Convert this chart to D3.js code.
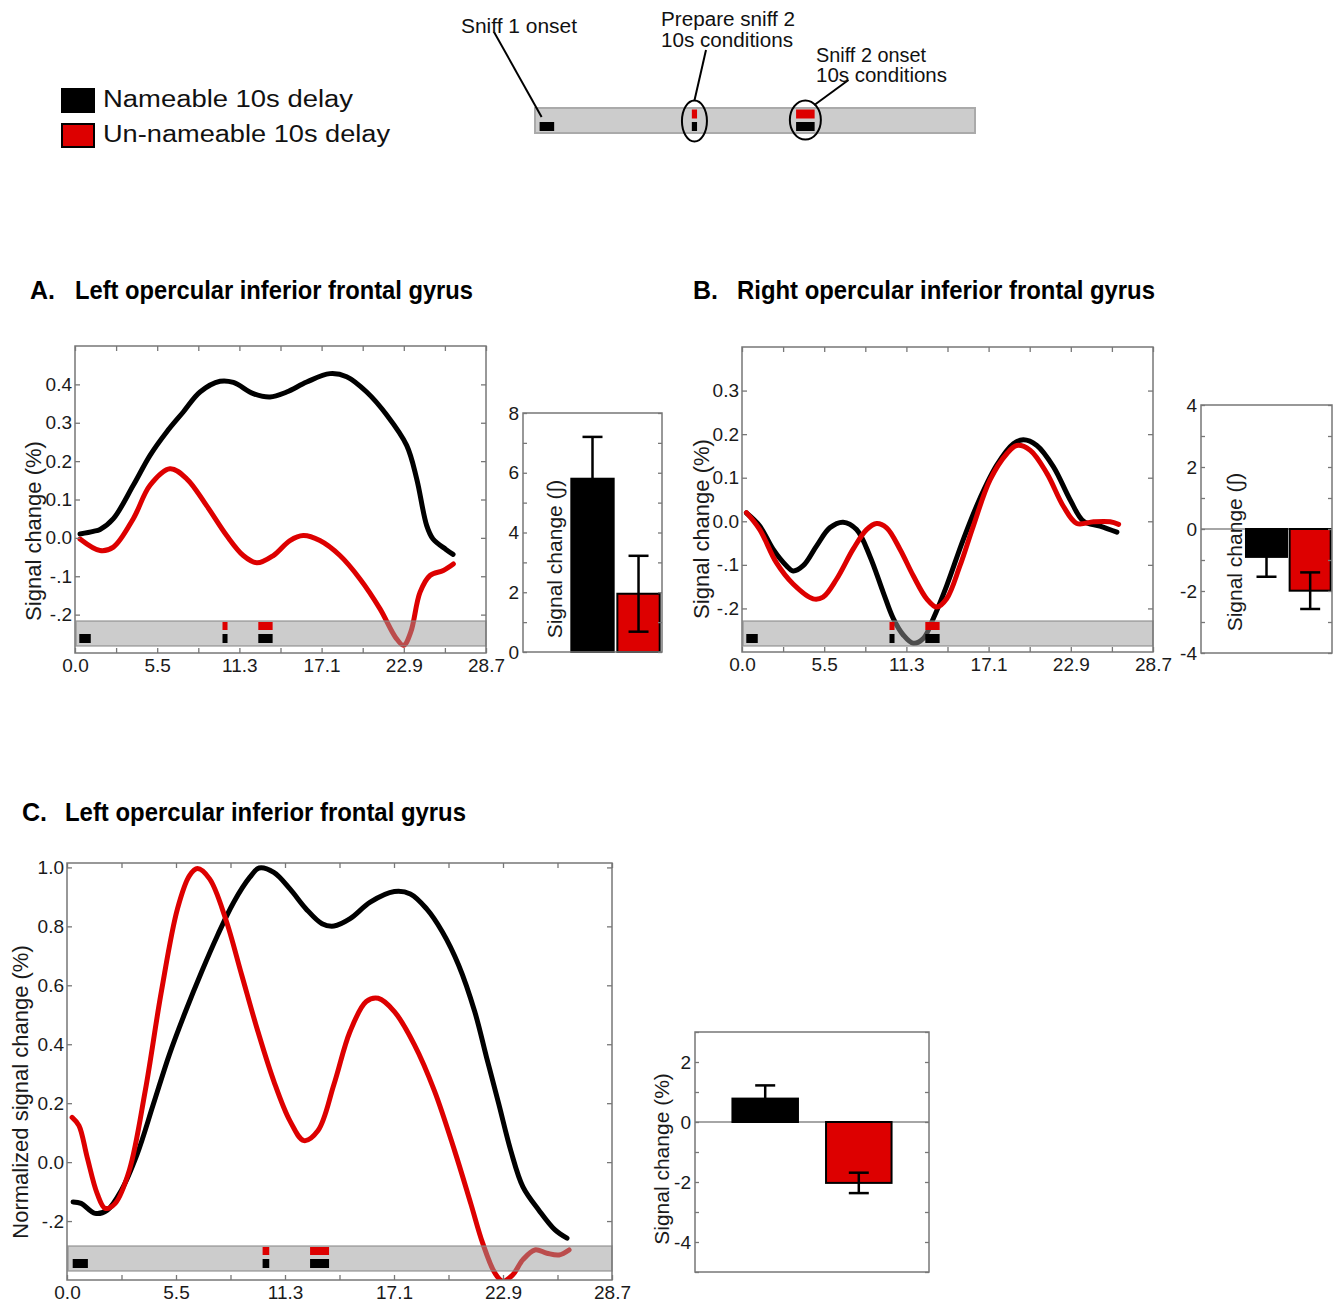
<!DOCTYPE html>
<html>
<head>
<meta charset="utf-8">
<script src="https://cdn.jsdelivr.net/npm/d3@7"></script>
<style>
  body { margin: 0; background: #fff; }
  text { font-family: "Liberation Sans", Arial, sans-serif; }
</style>
</head>
<body>
<script>
// ---- data ----
const seriesNames = ["Nameable 10s delay", "Un-nameable 10s delay"];
const seriesColors = ["#000000", "#dd0000"];

const tMax = 28.7;
const xTickLabels = ["0.0", "5.5", "11.3", "17.1", "22.9", "28.7"];

// event markers (s) shown in the grey band of each time course
const sniff1 = [0.3, 1.1];
const prepSniff2 = [10.3, 10.65];
const sniff2 = [12.8, 13.8];

// schematic trial at the top
const schemaSniff1 = [0.3, 1.25];
const schemaPrep = [10.23, 10.57];
const schemaSniff2 = [17.03, 18.24];

// A. left opercular IFG  [time, % signal change]
const aNameable = [[0.35,0.010],[1.28,0.017],[1.75,0.022],[2.68,0.05],[4.07,0.137],[5.24,0.215],[6.4,0.276],[7.56,0.328],[8.73,0.38],[10.13,0.408],[11.06,0.405],[12.45,0.376],[13.62,0.367],[14.78,0.38],[16.18,0.406],[17.8,0.428],[18.97,0.42],[20.37,0.38],[21.77,0.32],[23.16,0.241],[23.86,0.154],[24.56,0.032],[25.0,-0.003],[25.9,-0.03],[26.4,-0.043]];
const aUnnameable = [[0.35,-0.003],[1.75,-0.033],[2.68,-0.024],[4.07,0.05],[5.24,0.137],[6.63,0.18],[7.8,0.154],[9.19,0.084],[10.59,0.006],[11.75,-0.046],[12.69,-0.065],[13.85,-0.046],[15.01,-0.007],[15.94,0.006],[17.1,-0.007],[18.5,-0.046],[19.9,-0.107],[21.3,-0.185],[22.4,-0.26],[22.95,-0.28],[23.45,-0.245],[24.09,-0.142],[24.79,-0.098],[25.72,-0.085],[26.42,-0.068]];
const aYTicks = [0.4, 0.3, 0.2, 0.1, 0, -0.1, -0.2];
const aYLabels = ["0.4", "0.3", "0.2", "0.1", "0.0", "-.1", "-.2"];

// B. right opercular IFG
const bNameable = [[0.31,0.019],[1.24,-0.011],[2.17,-0.064],[3.1,-0.102],[3.57,-0.114],[4.27,-0.102],[5.2,-0.057],[6.13,-0.015],[7.06,-0.002],[8.0,-0.019],[8.93,-0.08],[9.86,-0.163],[10.56,-0.223],[11.26,-0.261],[11.96,-0.28],[12.66,-0.269],[13.36,-0.223],[14.29,-0.148],[15.45,-0.042],[16.62,0.053],[17.79,0.129],[18.95,0.178],[19.65,0.187],[20.59,0.174],[21.75,0.125],[22.92,0.049],[23.85,0.0],[25.0,-0.011],[26.18,-0.025]];
const bUnnameable = [[0.31,0.02],[1.24,-0.019],[2.4,-0.095],[3.57,-0.144],[4.97,-0.178],[5.66,-0.174],[6.6,-0.133],[7.76,-0.064],[8.7,-0.019],[9.4,-0.005],[10.1,-0.015],[11.03,-0.064],[11.96,-0.125],[12.9,-0.178],[13.6,-0.197],[14.29,-0.178],[15.22,-0.102],[16.15,-0.011],[17.32,0.095],[18.49,0.155],[19.19,0.174],[20.12,0.163],[21.29,0.11],[22.45,0.034],[23.38,-0.005],[24.55,-0.001],[25.71,-0.001],[26.3,-0.007]];
const bYTicks = [0.3, 0.2, 0.1, 0, -0.1, -0.2];
const bYLabels = ["0.3", "0.2", "0.1", "0.0", "-.1", "-.2"];

// C. left opercular IFG, normalised
const cNameable = [[0.32,-0.135],[0.74,-0.14],[1.48,-0.174],[2.12,-0.163],[2.86,-0.096],[3.7,0.028],[4.55,0.197],[5.39,0.365],[6.24,0.511],[7.09,0.646],[7.93,0.77],[8.78,0.882],[9.62,0.966],[10.12,0.998],[10.89,0.983],[11.74,0.927],[12.58,0.86],[13.43,0.809],[14.06,0.801],[14.91,0.826],[15.97,0.882],[17.24,0.918],[18.08,0.91],[18.93,0.86],[19.77,0.781],[20.62,0.669],[21.47,0.511],[22.1,0.354],[22.74,0.197],[23.37,0.039],[24.01,-0.084],[24.85,-0.163],[25.7,-0.23],[26.33,-0.258]];
const cUnnameable = [[0.27,0.152],[0.63,0.124],[1.06,0.017],[1.59,-0.107],[2.01,-0.157],[2.54,-0.14],[3.28,-0.028],[4.12,0.242],[4.97,0.579],[5.82,0.86],[6.45,0.972],[6.87,0.996],[7.51,0.961],[8.35,0.826],[9.2,0.635],[10.05,0.444],[10.89,0.275],[11.74,0.14],[12.48,0.073],[13.22,0.107],[14.06,0.264],[14.91,0.444],[15.76,0.545],[16.39,0.556],[17.24,0.511],[18.29,0.399],[19.35,0.242],[20.41,0.039],[21.26,-0.14],[21.89,-0.275],[22.53,-0.376],[22.95,-0.404],[23.48,-0.382],[24.01,-0.331],[24.64,-0.298],[25.27,-0.309],[25.91,-0.315],[26.44,-0.298]];
const cYTicks = [1.0, 0.8, 0.6, 0.4, 0.2, 0, -0.2];
const cYLabels = ["1.0", "0.8", "0.6", "0.4", "0.2", "0.0", "-.2"];

// bar charts: mean and error per condition
const barCategories = ["Nameable", "Un-nameable"];
const barAValues = [5.8, 1.95];
const barAErrors = [1.4, 1.27];
const barBValues = [-0.9, -1.99];
const barBErrors = [0.64, 0.59];
const barCValues = [0.78, -2.03];
const barCErrors = [0.44, 0.34];
const barATicks = [8, 6, 4, 2, 0];
const barBTicks = [4, 2, 0, -2, -4];
const barCTicks = [2, 0, -2, -4];

// ---- drawing ----
const svg = d3.select("body").append("svg")
    .attr("width", 1333)
    .attr("height", 1303);

const tickColor = "#777";
const labelColor = "#1a1a1a";

function styleAxis(g) {
    g.select(".domain").remove();
    g.selectAll(".tick line").attr("stroke", tickColor).attr("stroke-width", 1.3);
    g.selectAll(".tick text").attr("fill", labelColor)
        .attr("font-family", "Liberation Sans, Arial, sans-serif")
        .attr("font-size", 19);
}

function markerRows(g, x, top) {
    // red on the upper row, black on the lower row
    const rows = [
        { span: sniff1, color: seriesColors[0], y: top + 13, h: 9 },
        { span: prepSniff2, color: seriesColors[1], y: top + 1, h: 8 },
        { span: prepSniff2, color: seriesColors[0], y: top + 13, h: 9 },
        { span: sniff2, color: seriesColors[1], y: top + 1, h: 8 },
        { span: sniff2, color: seriesColors[0], y: top + 13, h: 9 }
    ];
    g.selectAll("rect.marker").data(rows).join("rect")
        .attr("class", "marker")
        .attr("x", d => x(d.span[0]))
        .attr("width", d => x(d.span[1]) - x(d.span[0]))
        .attr("y", d => d.y)
        .attr("height", d => d.h)
        .attr("fill", d => d.color);
}

function timecourse(cfg) {
    const g = svg.append("g").attr("transform", `translate(${cfg.left},${cfg.top})`);
    const x = d3.scaleLinear().domain([0, tMax]).range([0, cfg.width]);
    const y = d3.scaleLinear().domain(cfg.yDomain).range([cfg.height, 0]);

    g.append("clipPath").attr("id", cfg.id)
        .append("rect").attr("width", cfg.width).attr("height", cfg.height);

    const line = d3.line()
        .x(d => x(d[0]))
        .y(d => y(d[1]))
        .curve(d3.curveCatmullRom.alpha(0.5));

    [cfg.nameable, cfg.unnameable].forEach((s, i) => {
        g.append("path")
            .attr("d", line(s))
            .attr("fill", "none")
            .attr("stroke", seriesColors[i])
            .attr("stroke-width", 5)
            .attr("stroke-linecap", "round")
            .attr("stroke-linejoin", "round")
            .attr("clip-path", `url(#${cfg.id})`);
    });

    // translucent grey event band over the curves
    const bandH = 25;
    const bandTop = cfg.height - cfg.bandBottom - bandH;
    g.append("rect")
        .attr("x", 1).attr("y", bandTop)
        .attr("width", cfg.width - 1).attr("height", bandH)
        .attr("fill", "#999").attr("fill-opacity", 0.5)
        .attr("stroke", "#888").attr("stroke-opacity", 0.7).attr("stroke-width", 1.5);
    markerRows(g, x, bandTop);

    g.append("rect")
        .attr("width", cfg.width).attr("height", cfg.height)
        .attr("fill", "none").attr("stroke", tickColor).attr("stroke-width", 1.5);

    const xTicks = d3.range(11).map(i => i * tMax / 10);
    g.append("g").attr("transform", `translate(0,${cfg.height})`)
        .call(d3.axisBottom(x).tickValues(xTicks).tickSizeInner(-5).tickSizeOuter(0).tickPadding(6)
            .tickFormat((d, i) => i % 2 === 0 ? xTickLabels[i / 2] : ""))
        .call(styleAxis);
    g.append("g")
        .call(d3.axisTop(x).tickValues(xTicks).tickSizeInner(-5).tickSizeOuter(0).tickFormat(""))
        .call(styleAxis);
    g.append("g")
        .call(d3.axisLeft(y).tickValues(cfg.yTicks).tickSizeInner(-5).tickSizeOuter(0).tickPadding(3)
            .tickFormat((d, i) => cfg.yLabels[i]))
        .call(styleAxis);
    g.append("g").attr("transform", `translate(${cfg.width},0)`)
        .call(d3.axisRight(y).tickValues(cfg.yTicks).tickSizeInner(-5).tickSizeOuter(0).tickFormat(""))
        .call(styleAxis);

    g.append("text")
        .attr("transform", `translate(${cfg.titleX},${cfg.titleY}) rotate(-90)`)
        .attr("text-anchor", "middle")
        .attr("dy", "0.35em")
        .attr("font-size", 22)
        .attr("fill", labelColor)
        .text(cfg.yTitle);
}

function barPanel(cfg) {
    const g = svg.append("g").attr("transform", `translate(${cfg.left},${cfg.top})`);
    const domain = cfg.labelInside ? [""].concat(barCategories) : barCategories;
    const x = d3.scaleBand().domain(domain).range([0, cfg.width])
        .paddingInner(cfg.paddingInner).paddingOuter(cfg.paddingOuter);
    const y = d3.scaleLinear().domain(cfg.yDomain).range([cfg.height, 0]);

    if (cfg.yDomain[0] < 0) {
        g.append("line")
            .attr("x1", 0).attr("x2", cfg.width)
            .attr("y1", y(0)).attr("y2", y(0))
            .attr("stroke", "#888").attr("stroke-width", 1.5);
    }

    if (cfg.labelInside) drawBarTitle();

    const data = cfg.values.map((v, i) => ({ cat: barCategories[i], v: v, e: cfg.errors[i], c: seriesColors[i] }));

    g.selectAll("rect.bar").data(data).join("rect")
        .attr("class", "bar")
        .attr("x", d => x(d.cat))
        .attr("width", x.bandwidth())
        .attr("y", d => y(Math.max(0, d.v)))
        .attr("height", d => Math.abs(y(d.v) - y(0)))
        .attr("fill", d => d.c)
        .attr("stroke", "#000")
        .attr("stroke-width", 2);

    const cap = 10;
    const err = g.selectAll("g.err").data(data).join("g").attr("class", "err")
        .attr("stroke", "#000").attr("stroke-width", 2.5);
    err.append("line")
        .attr("x1", d => x(d.cat) + x.bandwidth() / 2).attr("x2", d => x(d.cat) + x.bandwidth() / 2)
        .attr("y1", d => y(d.v - d.e)).attr("y2", d => y(d.v + d.e));
    err.append("line")
        .attr("x1", d => x(d.cat) + x.bandwidth() / 2 - cap).attr("x2", d => x(d.cat) + x.bandwidth() / 2 + cap)
        .attr("y1", d => y(d.v + d.e)).attr("y2", d => y(d.v + d.e));
    err.append("line")
        .attr("x1", d => x(d.cat) + x.bandwidth() / 2 - cap).attr("x2", d => x(d.cat) + x.bandwidth() / 2 + cap)
        .attr("y1", d => y(d.v - d.e)).attr("y2", d => y(d.v - d.e));

    g.append("rect")
        .attr("width", cfg.width).attr("height", cfg.height)
        .attr("fill", "none").attr("stroke", tickColor).attr("stroke-width", 1.5);

    const allTicks = d3.range(cfg.yDomain[0], cfg.yDomain[1] + 1);
    g.append("g")
        .call(d3.axisLeft(y).tickValues(allTicks).tickSizeInner(-4).tickSizeOuter(0).tickPadding(4)
            .tickFormat(d => cfg.yTicks.includes(d) ? String(d) : ""))
        .call(styleAxis);
    g.append("g").attr("transform", `translate(${cfg.width},0)`)
        .call(d3.axisRight(y).tickValues(allTicks).tickSizeInner(-4).tickSizeOuter(0).tickFormat(""))
        .call(styleAxis);

    if (!cfg.labelInside) drawBarTitle();

    function drawBarTitle() {
        g.append("text")
            .attr("transform", `translate(${cfg.titleX},${cfg.titleY}) rotate(-90)`)
            .attr("text-anchor", "middle")
            .attr("dy", "0.35em")
            .attr("font-size", 21)
            .attr("fill", labelColor)
            .text(cfg.yTitle);
    }
}

function panelTitle(letter, name, x, nameX, nameLen, baseline) {
    svg.append("text").attr("x", x).attr("y", baseline)
        .attr("font-size", 25).attr("font-weight", "bold").text(letter);
    svg.append("text").attr("x", nameX).attr("y", baseline)
        .attr("font-size", 25).attr("font-weight", "bold")
        .attr("textLength", nameLen).attr("lengthAdjust", "spacingAndGlyphs")
        .text(name);
}

// ---- legend ----
const legend = svg.append("g");
const legendLen = [250, 287];
seriesNames.forEach((name, i) => {
    legend.append("rect")
        .attr("x", 62).attr("y", 89 + i * 35)
        .attr("width", 32).attr("height", 23)
        .attr("fill", seriesColors[i])
        .attr("stroke", "#000").attr("stroke-width", 2);
    legend.append("text")
        .attr("x", 103).attr("y", 107 + i * 35)
        .attr("font-size", 23)
        .attr("textLength", legendLen[i]).attr("lengthAdjust", "spacingAndGlyphs")
        .attr("fill", "#111")
        .text(name);
});

// ---- schematic trial ----
const tl = svg.append("g").attr("transform", "translate(535,108)");
const tx = d3.scaleLinear().domain([0, tMax]).range([0, 440]);
tl.append("rect").attr("width", 440).attr("height", 25)
    .attr("fill", "#cccccc").attr("stroke", "#aaa").attr("stroke-width", 2);
const schemaRows = [
    { span: schemaSniff1, color: seriesColors[0], y: 14, h: 9 },
    { span: schemaPrep, color: seriesColors[1], y: 1.5, h: 9 },
    { span: schemaPrep, color: seriesColors[0], y: 14, h: 9 },
    { span: schemaSniff2, color: seriesColors[1], y: 1.5, h: 9 },
    { span: schemaSniff2, color: seriesColors[0], y: 14, h: 9 }
];
tl.selectAll("rect.m").data(schemaRows).join("rect")
    .attr("class", "m")
    .attr("x", d => tx(d.span[0]))
    .attr("width", d => tx(d.span[1]) - tx(d.span[0]))
    .attr("y", d => d.y).attr("height", d => d.h)
    .attr("fill", d => d.color);

const prepCx = tx(d3.mean(schemaPrep));
const sniff2Cx = tx(d3.mean(schemaSniff2));
tl.append("ellipse").attr("cx", prepCx).attr("cy", 13).attr("rx", 12.5).attr("ry", 20.5)
    .attr("fill", "none").attr("stroke", "#000").attr("stroke-width", 2);
tl.append("ellipse").attr("cx", sniff2Cx).attr("cy", 12).attr("rx", 15.5).attr("ry", 19.5)
    .attr("fill", "none").attr("stroke", "#000").attr("stroke-width", 2);

const leaders = [
    { x1: -41, y1: -76, x2: tx(schemaSniff1[0]) + 2, y2: 9 },
    { x1: 171, y1: -58, x2: prepCx, y2: -7.5 },
    { x1: 313.5, y1: -28, x2: sniff2Cx + 9, y2: -3 }
];
tl.selectAll("line.lead").data(leaders).join("line")
    .attr("class", "lead")
    .attr("x1", d => d.x1).attr("y1", d => d.y1)
    .attr("x2", d => d.x2).attr("y2", d => d.y2)
    .attr("stroke", "#000").attr("stroke-width", 2);

const notes = [
    { text: "Sniff 1 onset", x: 461, y: 33, len: 116 },
    { text: "Prepare sniff 2", x: 661, y: 26, len: 134 },
    { text: "10s conditions", x: 661, y: 47, len: 132 },
    { text: "Sniff 2 onset", x: 816, y: 62, len: 110 },
    { text: "10s conditions", x: 816, y: 82, len: 131 }
];
svg.selectAll("text.note").data(notes).join("text")
    .attr("class", "note")
    .attr("x", d => d.x).attr("y", d => d.y)
    .attr("font-size", 20)
    .attr("textLength", d => d.len).attr("lengthAdjust", "spacingAndGlyphs")
    .attr("fill", "#111")
    .text(d => d.text);

// ---- panel A ----
panelTitle("A.", "Left opercular inferior frontal gyrus", 30, 75, 398, 299);
timecourse({
    id: "clipA", left: 75, top: 346, width: 411, height: 307,
    yDomain: [-0.3, 0.5], yTicks: aYTicks, yLabels: aYLabels,
    nameable: aNameable, unnameable: aUnnameable, bandBottom: 7,
    yTitle: "Signal change (%)", titleX: -42, titleY: 185
});
barPanel({
    left: 523, top: 413, width: 139, height: 239,
    yDomain: [0, 8], yTicks: barATicks, values: barAValues, errors: barAErrors,
    labelInside: true, paddingInner: 0.08, paddingOuter: 0.05,
    yTitle: "Signal change (\u222B)", titleX: 32, titleY: 146
});

// ---- panel B ----
panelTitle("B.", "Right opercular inferior frontal gyrus", 693, 737, 418, 299);
timecourse({
    id: "clipB", left: 742, top: 347, width: 411, height: 305,
    yDomain: [-0.3, 0.4], yTicks: bYTicks, yLabels: bYLabels,
    nameable: bNameable, unnameable: bUnnameable, bandBottom: 6,
    yTitle: "Signal change (%)", titleX: -41, titleY: 182
});
barPanel({
    left: 1201, top: 405, width: 131, height: 248,
    yDomain: [-4, 4], yTicks: barBTicks, values: barBValues, errors: barBErrors,
    labelInside: true, paddingInner: 0.06, paddingOuter: 0.03,
    yTitle: "Signal change (\u222B)", titleX: 34, titleY: 147
});

// ---- panel C ----
panelTitle("C.", "Left opercular inferior frontal gyrus", 22, 65, 401, 821);
timecourse({
    id: "clipC", left: 67, top: 863, width: 545, height: 417,
    yDomain: [-0.4, 1.015], yTicks: cYTicks, yLabels: cYLabels,
    nameable: cNameable, unnameable: cUnnameable, bandBottom: 9,
    yTitle: "Normalized signal change (%)", titleX: -47, titleY: 229
});
barPanel({
    left: 695, top: 1032, width: 234, height: 240,
    yDomain: [-5, 3], yTicks: barCTicks, values: barCValues, errors: barCErrors,
    labelInside: false, paddingInner: 0.3, paddingOuter: 0.4,
    yTitle: "Signal change (%)", titleX: -33, titleY: 127
});
</script>
</body>
</html>
